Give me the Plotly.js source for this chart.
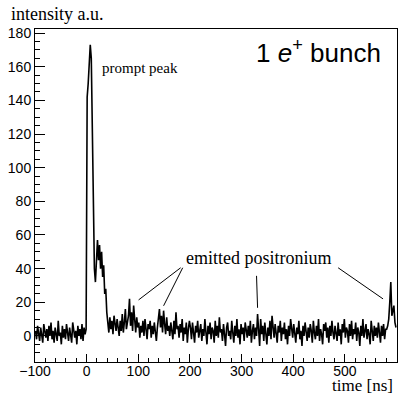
<!DOCTYPE html>
<html>
<head>
<meta charset="utf-8">
<script src="https://cdn.plot.ly/plotly-3.0.1.min.js"></script>
<style>html,body{margin:0;padding:0;background:#fff;}#chart{width:399px;height:397px;}</style>
</head>
<body>
<div id="chart"></div>
<script>
// Histogram: bin start and width (ns)
const binStart = -100;
const binWidth = 2;

// counts per 2 ns bin
const preBunch = [3,-2,6,0,-3,5,1,-4,7,2,
 -1,4,-3,6,0,8,-2,3,-4,5,
 1,-3,9,0,2,-5,6,-1,4,-2,
 7,1,-3,5,0,-4,8,2,-1,3,
 -5,6,0,4,-2,7,-3,5,1,4];
const promptPeak = [142,150,160,173,165,120,90,40,32,50,57,45,54,40,50,35,42,25,28,14];
const earlyTail = [8,2,11,4,9,1,12,5,3,10,
 6,0,9,3,13,2,8,16,4,7,
 12,22,6,14,3,18,9,2,11,5,
 8,-1,6,2,9,0,10,3,-2,7,
 4,9,-1,6,1,8,3,-3,5,10,
 16,5,12,2,15,7,1,11,3,6,
 0,8,3,-2,9,1,14,4,6,-1,
 7,2,10,-3,5,1,8,-4,4,9];
const lateTail = [5,-2,8,1,-4,6,2,9,-1,3,
 7,-3,4,0,10,2,-5,6,1,8,
 -2,5,3,-4,9,0,6,-1,11,2,
 4,-3,7,1,-6,5,8,0,3,-2,
 9,2,-4,6,0,10,-1,4,-5,7,
 1,5,-3,8,2,-1,6,0,9,-4,
 3,7,-2,5,0,13,4,-6,10,1,
 6,-3,8,2,-5,5,0,9,-2,12,
 4,-1,7,0,-4,6,2,9,-3,5,
 1,8,-2,4,-5,6,0,10,3,-1,
 7,2,-4,5,1,9,-2,3,-6,6,
 0,8,2,-3,5,-1,7,3,-4,9,
 2,-2,6,0,10,-3,4,1,-5,7,
 3,8,-1,5,-4,6,0,9,2,-2,
 6,1,-3,8,0,4,-5,7,2,10,
 -1,5,3,-4,7,0,9,-2,4,1,
 8,-3,5,2,-6,6,0,10,-1,3,
 7,-2,4,1,-5,9,2,-3,6,0,
 5,-1,8,3,-4,6,0,7,-2,4];
const endPeak = [4,6,10,20,32,12,16,18,8,5];

const counts = preBunch.concat(promptPeak, earlyTail, lateTail, endPeak);
const times = counts.map((_, i) => binStart + binWidth * (i + 0.5));

const xTickVals = [-100, 0, 100, 200, 300, 400, 500];
const yTickVals = [0, 20, 40, 60, 80, 100, 120, 140, 160, 180];

const serif = '"Liberation Serif", "DejaVu Serif", serif';
const sans = '"Liberation Sans", Arial, sans-serif';

const trace = {
  x: times, y: counts, type: 'scatter', mode: 'lines',
  line: {color: '#000', width: 1.6}, hoverinfo: 'skip'
};

const layout = {
  width: 399, height: 397,
  margin: {l: 35, r: 2, t: 29, b: 35},
  paper_bgcolor: '#fff', plot_bgcolor: '#fff',
  showlegend: false,
  xaxis: {
    range: [-100, 601], tickvals: xTickVals, ticks: 'inside', ticklen: 8, tickwidth: 1, tickcolor: '#000',
    minor: {dtick: 20, ticks: 'inside', ticklen: 4, tickcolor: '#000', tick0: 0},
    showgrid: false, zeroline: false, showline: true, mirror: true, linecolor: '#000', linewidth: 1,
    ticklabelstandoff: -4,
    tickfont: {family: sans, size: 14, color: '#000'}
  },
  yaxis: {
    range: [-15.5, 182.4], tickvals: yTickVals, ticks: 'inside', ticklen: 10, tickwidth: 1, tickcolor: '#000',
    minor: {dtick: 5, ticks: 'inside', ticklen: 5, tickcolor: '#000', tick0: 0},
    showgrid: false, zeroline: false, showline: true, mirror: true, linecolor: '#000', linewidth: 1,
    tickfont: {family: sans, size: 14, color: '#000'}
  },
  annotations: [
    {text: 'intensity a.u.', xref: 'paper', yref: 'paper', x: -0.072, y: 1.044, xanchor: 'left', yanchor: 'middle', showarrow: false, font: {family: serif, size: 18, color: '#000'}},
    {text: 'time [ns]', xref: 'paper', yref: 'paper', x: 0.9945, y: -0.104, xanchor: 'right', yanchor: 'bottom', showarrow: false, font: {family: serif, size: 17, color: '#000'}},
    {text: 'prompt peak', xref: 'x', yref: 'y', x: 25, y: 159, xanchor: 'left', yanchor: 'middle', showarrow: false, font: {family: serif, size: 15, color: '#000'}},
    {text: '1 <i>e</i><sup>+</sup> bunch', xref: 'x', yref: 'y', x: 573, y: 169, xanchor: 'right', yanchor: 'middle', showarrow: false, font: {family: sans, size: 26, color: '#000'}},
    {text: 'emitted positronium', xref: 'x', yref: 'y', x: 333.5, y: 46.4, xanchor: 'center', yanchor: 'middle', showarrow: false, font: {family: serif, size: 18, color: '#000'}}
  ],
  shapes: [
    {type: 'line', xref: 'x', yref: 'y', x0: 182, y0: 40.5, x1: 100.6, y1: 21.4, line: {color: '#000', width: 1}},
    {type: 'line', xref: 'x', yref: 'y', x0: 186, y0: 40.5, x1: 149, y1: 17.9, line: {color: '#000', width: 1}},
    {type: 'line', xref: 'x', yref: 'y', x0: 329, y0: 35.7, x1: 331, y1: 16.7, line: {color: '#000', width: 1}},
    {type: 'line', xref: 'x', yref: 'y', x0: 487, y0: 40.5, x1: 574, y1: 22, line: {color: '#000', width: 1}}
  ]
};

Plotly.newPlot('chart', [trace], layout, {displayModeBar: false, staticPlot: true});
</script>
</body>
</html>
